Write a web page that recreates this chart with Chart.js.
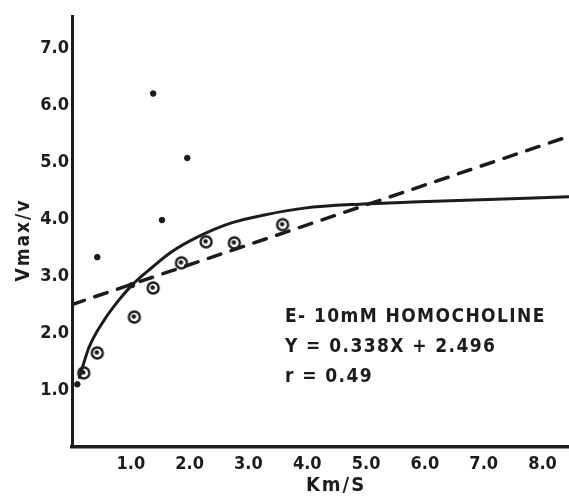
<!DOCTYPE html>
<html>
<head>
<meta charset="utf-8">
<script src="https://cdn.jsdelivr.net/npm/chart.js@4.4.1/dist/chart.umd.min.js"></script>
<style>
  html, body { margin: 0; padding: 0; background: #fff; }
  #wrap { width: 569px; height: 500px; position: relative; }
</style>
</head>
<body>
<div id="wrap"><canvas id="chart"></canvas></div>
<script>
// ===============================
// Data
// ===============================
const circleX = [0.2, 0.43, 1.06, 1.38, 1.86, 2.28, 2.76, 3.58];
const circleY = [1.3, 1.65, 2.28, 2.79, 3.23, 3.6, 3.58, 3.9];

const dotX = [0.09, 0.43, 1.02, 1.38, 1.53, 1.96];
const dotY = [1.1, 3.33, 2.84, 6.2, 3.98, 5.07];

const curveX = [0.12, 0.29, 0.55, 0.8, 1.02, 1.35, 1.69, 2.13, 2.71, 3.27, 3.95, 4.89, 5.91, 8.45];
const curveY = [1.2, 1.75, 2.23, 2.58, 2.84, 3.14, 3.42, 3.68, 3.93, 4.07, 4.19, 4.26, 4.3, 4.39];

const fitX = [0, 8.45];
const fitY = [2.5, 5.45];

const xTicks = [1, 2, 3, 4, 5, 6, 7, 8];
const yTicks = [1, 2, 3, 4, 5, 6, 7];

const notes = ['E- 10mM HOMOCHOLINE', 'Y = 0.338X + 2.496', 'r = 0.49'];

const ink = '#1c1c1c';
const font = "'DejaVu Sans Condensed', 'DejaVu Sans', sans-serif";

const toPoints = (xs, ys) => xs.map((x, i) => ({ x: x, y: ys[i] }));

// circle with a dot in the middle
function makeRing() {
  const c = document.createElement('canvas');
  c.width = 16; c.height = 16;
  const g = c.getContext('2d');
  g.strokeStyle = ink;
  g.lineWidth = 2.4;
  g.beginPath();
  g.arc(8, 8, 5.5, 0, Math.PI * 2);
  g.stroke();
  g.fillStyle = ink;
  g.beginPath();
  g.arc(7.5, 7.5, 2.2, 0, Math.PI * 2);
  g.fill();
  return c;
}

// text block + axis titles
const notesPlugin = {
  id: 'notes',
  afterDraw(chart) {
    const ctx = chart.ctx;
    ctx.save();
    ctx.fillStyle = ink;
    ctx.textBaseline = 'middle';
    ctx.textAlign = 'left';
    ctx.font = 'bold 19px ' + font;
    ctx.letterSpacing = '1.4px';
    notes.forEach((t, i) => ctx.fillText(t, 285, 317 + i * 30));

    ctx.font = 'bold 20px ' + font;
    ctx.letterSpacing = '2px';
    ctx.textAlign = 'center';
    ctx.fillText('Km/S', 336, 486);

    ctx.translate(24, 240);
    ctx.rotate(-Math.PI / 2);
    ctx.font = 'bold 19px ' + font;
    ctx.fillText('Vmax/v', 0, 0);
    ctx.restore();
  }
};

const ctx = document.getElementById('chart').getContext('2d');

new Chart(ctx, {
  type: 'scatter',
  data: {
    datasets: [
      {
        label: 'fit',
        type: 'line',
        data: toPoints(fitX, fitY),
        borderColor: ink,
        borderWidth: 3.5,
        borderDash: [13, 11],
        borderCapStyle: 'round',
        pointRadius: 0,
        fill: false
      },
      {
        label: 'curve',
        type: 'line',
        data: toPoints(curveX, curveY),
        borderColor: ink,
        borderWidth: 3,
        pointRadius: 0,
        cubicInterpolationMode: 'monotone',
        fill: false
      },
      {
        label: 'circles',
        data: toPoints(circleX, circleY),
        pointStyle: makeRing(),
        pointRadius: 8
      },
      {
        label: 'dots',
        data: toPoints(dotX, dotY),
        backgroundColor: ink,
        borderColor: ink,
        pointRadius: 2.8
      }
    ]
  },
  options: {
    responsive: true,
    maintainAspectRatio: false,
    animation: false,
    layout: {
      autoPadding: false,
      padding: { top: 16, right: 0, left: 0, bottom: 0 }
    },
    plugins: {
      legend: { display: false },
      tooltip: { enabled: false }
    },
    scales: {
      x: {
        type: 'linear',
        min: 0,
        max: 8.45,
        afterFit(scale) {
          scale.height = 53;
          scale.paddingLeft = 0;
          scale.paddingRight = 0;
        },
        afterBuildTicks(scale) { scale.ticks = xTicks.map(v => ({ value: v })); },
        grid: { display: false, drawTicks: false },
        border: { display: true, color: ink, width: 3.5 },
        ticks: {
          color: ink,
          padding: 7,
          font: { family: font, size: 18, weight: 'bold' },
          callback: v => v.toFixed(1)
        }
      },
      y: {
        type: 'linear',
        min: 0,
        max: 7.56,
        afterFit(scale) {
          scale.width = 72;
          scale.paddingTop = 0;
          scale.paddingBottom = 0;
        },
        afterBuildTicks(scale) { scale.ticks = yTicks.map(v => ({ value: v })); },
        grid: { display: false, drawTicks: false },
        border: { display: true, color: ink, width: 3 },
        ticks: {
          color: ink,
          padding: 3,
          font: { family: font, size: 18, weight: 'bold' },
          callback: v => v.toFixed(1)
        }
      }
    }
  },
  plugins: [notesPlugin]
});
</script>
</body>
</html>
